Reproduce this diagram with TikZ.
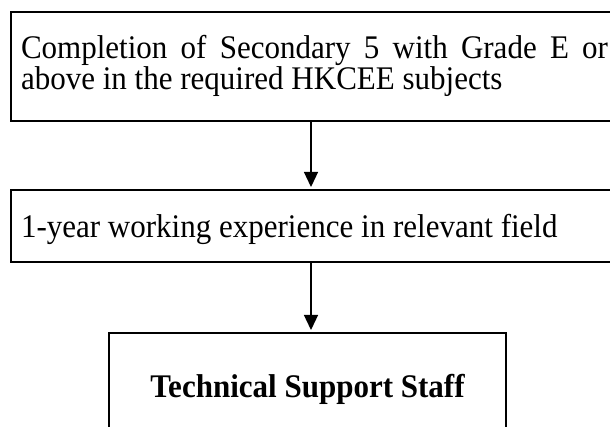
\documentclass[tikz,border=0pt]{standalone}
\usepackage{fontspec}
\setmainfont{Liberation Serif}[FakeStretch=0.94]
\usetikzlibrary{arrows.meta}
\tikzset{
  stagebox/.style={draw, line width=2.3pt, outer sep=0pt, inner xsep=10pt, inner ysep=0pt,
    anchor=north west, align=justify, text width=587pt, font=\fontsize{33}{31}\selectfont},
  resultbox/.style={draw, line width=2.3pt, outer sep=0pt, inner sep=0pt, anchor=north west,
    minimum width=397pt, font=\fontsize{33}{31}\selectfont\bfseries},
  flow/.style={-{Triangle[length=15pt,width=14pt]}, line width=1.3pt, shorten >=3pt},
}
\begin{document}
\begin{tikzpicture}[x=1pt,y=1pt]
  \useasboundingbox (0,0) rectangle (610,-427);
  \node[stagebox, text height=47pt, text depth=62pt] (entry) at (11,-12)
    {Completion of Secondary 5 with Grade E or\linebreak above in the required HKCEE subjects};
  \node[stagebox, text height=48pt, text depth=24pt] (work) at (11,-190)
    {1-year working experience in relevant field};
  \node[resultbox, text height=64pt, text depth=60pt] (staff) at (109,-333)
    {Technical Support Staff};

  \coordinate (spine) at (311,0);
  \draw[flow] (entry.south -| spine) -- (work.north -| spine);
  \draw[flow] (work.south -| spine) -- (staff.north -| spine);
\end{tikzpicture}
\end{document}
